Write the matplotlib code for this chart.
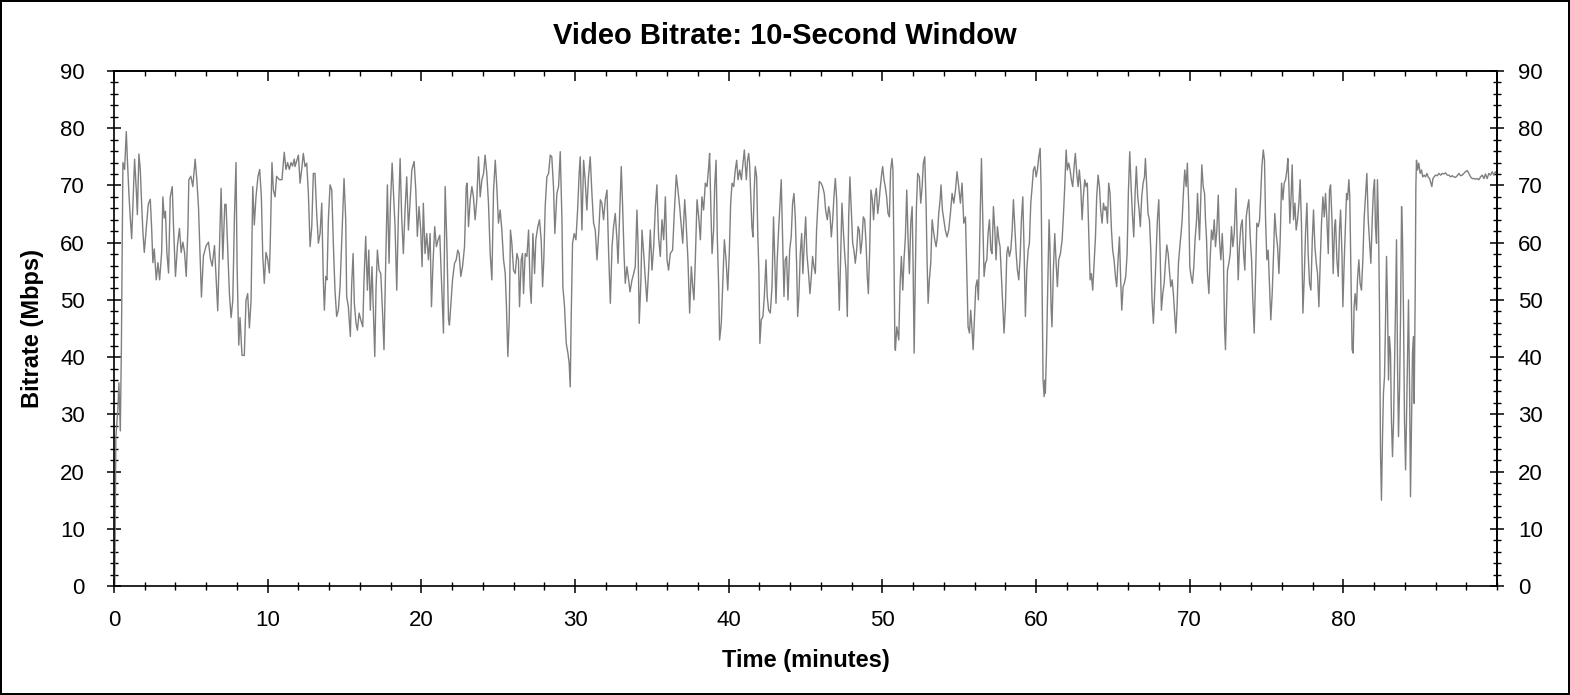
import matplotlib
matplotlib.use("Agg")
import matplotlib.pyplot as plt
from matplotlib.ticker import MultipleLocator

plt.rcParams['font.family'] = ['Liberation Sans', 'DejaVu Sans']

title = "Video Bitrate: 10-Second Window"
x_label = "Time (minutes)"
y_label = "Bitrate (Mbps)"
x_ticks = [0, 10, 20, 30, 40, 50, 60, 70, 80]
y_ticks = [0, 10, 20, 30, 40, 50, 60, 70, 80, 90]
x_range = (0, 90)
y_range = (0, 90)

# (minute, Mbps) readings, segment by segment
seg_00 = [
    (0.05, 0.0), (0.12, 25.9), (0.26, 31.3), (0.32, 35.5), (0.41, 27.1), (0.48, 41.5),
    (0.54, 61.9), (0.58, 74.0), (0.69, 72.8), (0.80, 79.4), (0.87, 74.6), (0.97, 68.6),
    (1.06, 64.3), (1.15, 60.7), (1.23, 66.7), (1.34, 74.6), (1.45, 69.2), (1.52, 64.9),
    (1.62, 75.5), (1.71, 72.8), (1.80, 66.7), (1.88, 61.9), (1.97, 58.3), (2.10, 62.5),
    (2.23, 66.7), (2.36, 67.6), (2.45, 62.5), (2.53, 56.5), (2.62, 58.9), (2.75, 53.5),
    (2.86, 56.5), (2.97, 53.5), (3.10, 58.3), (3.18, 68.0), (3.27, 64.3), (3.35, 65.5),
    (3.44, 58.3), (3.55, 54.7), (3.66, 68.0), (3.79, 69.8), (3.87, 63.1), (4.00, 54.1),
    (4.13, 59.5), (4.26, 62.5), (4.37, 58.3), (4.48, 60.1), (4.59, 58.3), (4.70, 54.1),
    (4.81, 62.5), (4.87, 71.0), (5.00, 71.6), (5.13, 69.8), (5.28, 74.6), (5.39, 71.0),
    (5.50, 66.1), (5.61, 57.1), (5.69, 50.5), (5.82, 57.7), (6.00, 59.5), (6.15, 60.1),
    (6.28, 57.1), (6.39, 55.9), (6.54, 59.5), (6.65, 53.5), (6.75, 48.1), (6.86, 58.9),
    (6.97, 69.5), (7.08, 57.1), (7.21, 66.7), (7.29, 66.7), (7.40, 58.9), (7.51, 51.1),
    (7.62, 46.9), (7.73, 49.9), (7.84, 64.9), (7.94, 74.0), (8.01, 55.9), (8.12, 42.1),
    (8.20, 46.9), (8.33, 40.3), (8.48, 40.3), (8.59, 49.9), (8.70, 51.1), (8.81, 45.1),
    (8.92, 49.9), (9.03, 69.8), (9.13, 63.1), (9.24, 68.0), (9.37, 71.6), (9.48, 72.8),
    (9.59, 68.0), (9.68, 57.7), (9.78, 52.9), (9.89, 58.3), (10.00, 57.1), (10.11, 54.7),
    (10.17, 60.1), (10.28, 74.0), (10.37, 69.2), (10.48, 68.0), (10.58, 71.6), (10.76, 71.0),
    (10.93, 71.0), (11.08, 75.8), (11.19, 72.8), (11.30, 74.0), (11.41, 72.8), (11.52, 74.0),
    (11.62, 73.4), (11.73, 74.6),
]

seg_12 = [
    (11.78, 73.3), (12.00, 75.3), (12.11, 70.4), (12.21, 72.7), (12.32, 75.6), (12.43, 73.3),
    (12.54, 73.9), (12.65, 68.6), (12.76, 59.3), (12.87, 62.8), (12.97, 72.1), (13.08, 72.1),
    (13.19, 65.1), (13.30, 59.9), (13.41, 61.6), (13.52, 66.9), (13.62, 53.5), (13.69, 48.2),
    (13.78, 54.1), (13.86, 53.5), (13.95, 64.0), (14.06, 70.1), (14.17, 69.2), (14.28, 59.3),
    (14.38, 51.7), (14.49, 47.1), (14.60, 48.2), (14.71, 52.3), (14.82, 60.5), (14.97, 71.2),
    (15.08, 64.0), (15.14, 50.6), (15.25, 48.8), (15.38, 43.6), (15.47, 52.9), (15.56, 58.1),
    (15.64, 49.4), (15.75, 45.9), (15.84, 44.7), (15.95, 47.7), (16.06, 46.5), (16.19, 45.3),
    (16.27, 53.5), (16.38, 61.1), (16.49, 51.7), (16.58, 58.7), (16.68, 48.2), (16.79, 55.8),
    (16.88, 47.7), (16.97, 40.1), (17.05, 51.7), (17.14, 58.7), (17.25, 55.2), (17.36, 54.6),
    (17.47, 48.2), (17.57, 41.3), (17.68, 56.4), (17.79, 70.1), (17.90, 56.4), (17.99, 66.9),
    (18.10, 73.9), (18.20, 68.0), (18.29, 62.8), (18.40, 51.7), (18.51, 65.1), (18.62, 74.7),
    (18.72, 64.5), (18.83, 58.1), (18.94, 65.7), (19.05, 71.5), (19.16, 62.2), (19.25, 66.3),
    (19.38, 72.7), (19.53, 74.2), (19.64, 69.2), (19.74, 61.1), (19.85, 66.3), (19.96, 62.2),
    (20.05, 55.8), (20.13, 66.9), (20.24, 58.1), (20.35, 61.6), (20.46, 57.0), (20.57, 61.6),
    (20.66, 48.8), (20.76, 56.4), (20.87, 62.8), (20.98, 59.3), (21.09, 60.5), (21.20, 61.3),
    (21.33, 52.3), (21.44, 44.2), (21.52, 62.2),
]

seg_22 = [
    (21.55, 69.8), (21.66, 59.9), (21.77, 46.5), (21.83, 45.6), (21.94, 50.0), (22.03, 53.5),
    (22.16, 56.4), (22.27, 57.0), (22.37, 58.7), (22.46, 58.1), (22.57, 54.1), (22.68, 55.8),
    (22.81, 59.3), (22.92, 69.8), (22.98, 70.4), (23.07, 62.8), (23.18, 67.5), (23.29, 69.8),
    (23.39, 68.0), (23.50, 64.0), (23.61, 67.5), (23.72, 75.0), (23.83, 68.0), (23.94, 71.0),
    (24.05, 72.1), (24.15, 75.3), (24.26, 72.1), (24.37, 66.9), (24.48, 58.1), (24.59, 53.5),
    (24.70, 69.2), (24.81, 74.4), (24.91, 69.8), (25.02, 63.4), (25.13, 65.7), (25.24, 62.2),
    (25.35, 57.0), (25.46, 54.6), (25.54, 48.8), (25.63, 40.1), (25.72, 46.5), (25.80, 62.2),
    (25.89, 59.9), (26.00, 55.2), (26.11, 54.6), (26.22, 58.1), (26.32, 57.0), (26.39, 48.8),
    (26.50, 57.0), (26.58, 58.1), (26.65, 51.1), (26.76, 58.1), (26.87, 57.6), (26.98, 62.2),
    (27.08, 52.3), (27.15, 49.4), (27.26, 61.6), (27.37, 54.6), (27.45, 60.5), (27.58, 62.8),
    (27.69, 64.0), (27.80, 60.5), (27.89, 52.3), (27.97, 57.0), (28.06, 66.3), (28.17, 71.5),
    (28.28, 72.1), (28.39, 75.3), (28.49, 75.0), (28.60, 69.8), (28.69, 61.6), (28.82, 68.6),
    (28.93, 69.8), (29.04, 75.9), (29.15, 64.0), (29.21, 52.3), (29.32, 48.8), (29.43, 42.4),
    (29.54, 40.7), (29.62, 38.9), (29.69, 34.8), (29.75, 46.5), (29.84, 59.9), (29.95, 61.6),
    (30.06, 60.5), (30.17, 65.7), (30.27, 72.1), (30.34, 75.0), (30.45, 62.2), (30.56, 74.4),
    (30.66, 71.0), (30.77, 65.7), (30.88, 71.5), (30.99, 75.0), (31.10, 68.6), (31.21, 63.4),
]

seg_31 = [
    (31.32, 62.2), (31.43, 57.0), (31.54, 61.6), (31.65, 67.5), (31.75, 66.9), (31.86, 64.0),
    (31.97, 67.5), (32.08, 69.2), (32.19, 58.1), (32.30, 49.4), (32.41, 59.3), (32.51, 62.8),
    (32.62, 65.1), (32.73, 60.5), (32.80, 56.4), (32.90, 64.5), (33.01, 73.3), (33.10, 66.3),
    (33.19, 58.1), (33.27, 52.9), (33.38, 55.8), (33.49, 53.5), (33.58, 51.4), (33.71, 53.5),
    (33.82, 54.6), (33.92, 55.8), (34.03, 65.7), (34.10, 59.9), (34.18, 45.9), (34.29, 53.5),
    (34.36, 62.2), (34.47, 58.1), (34.58, 53.5), (34.68, 49.7), (34.79, 55.2), (34.90, 62.2),
    (35.01, 55.2), (35.12, 59.3), (35.23, 66.3), (35.33, 70.1), (35.44, 61.0), (35.55, 57.6),
    (35.66, 64.0), (35.77, 60.5), (35.88, 68.0), (35.99, 57.0), (36.09, 55.2), (36.20, 58.1),
    (36.35, 58.7), (36.46, 65.1), (36.59, 71.8), (36.70, 69.2), (36.81, 66.3), (36.92, 62.8),
    (37.01, 59.9), (37.14, 67.5), (37.22, 64.0), (37.35, 57.0), (37.46, 47.7), (37.57, 55.8),
    (37.66, 52.3), (37.74, 50.0), (37.83, 57.0), (37.94, 67.5), (38.05, 64.5), (38.16, 60.5),
    (38.26, 68.0), (38.37, 65.7), (38.48, 70.4), (38.59, 69.8), (38.70, 73.3), (38.76, 75.6),
    (38.85, 65.1), (38.92, 58.1), (39.02, 62.2), (39.09, 69.8), (39.18, 74.4), (39.26, 61.0),
    (39.35, 52.3), (39.41, 43.0), (39.52, 45.9), (39.61, 52.3), (39.72, 60.5), (39.83, 57.0),
    (39.94, 51.7), (40.04, 58.1), (40.13, 66.9), (40.22, 70.4), (40.33, 69.8), (40.43, 72.7),
    (40.52, 74.4), (40.61, 71.0), (40.72, 72.7), (40.83, 71.0), (40.91, 73.3), (41.02, 76.2),
]

seg_41 = [
    (41.08, 73.9), (41.15, 71.0), (41.23, 74.4), (41.30, 75.6), (41.36, 73.9), (41.43, 68.6),
    (41.51, 62.8), (41.58, 61.0), (41.67, 69.8), (41.73, 73.3), (41.82, 71.5), (41.90, 61.0),
    (41.97, 54.6), (42.03, 42.4), (42.12, 46.5), (42.23, 47.1), (42.32, 50.6), (42.43, 57.0),
    (42.51, 50.6), (42.60, 48.2), (42.71, 47.7), (42.82, 52.3), (42.92, 64.5), (42.99, 58.1),
    (43.08, 49.4), (43.16, 57.0), (43.25, 62.2), (43.36, 68.0), (43.42, 71.0), (43.51, 61.0),
    (43.60, 50.6), (43.68, 57.0), (43.77, 57.6), (43.86, 50.0), (43.97, 58.7), (44.07, 61.0),
    (44.16, 66.9), (44.25, 68.6), (44.34, 64.0), (44.42, 56.4), (44.49, 47.1), (44.57, 50.6),
    (44.66, 58.1), (44.75, 61.6), (44.83, 54.6), (44.92, 59.9), (45.01, 64.5), (45.09, 58.1),
    (45.20, 54.6), (45.29, 51.1), (45.38, 54.1), (45.46, 57.6), (45.55, 55.8), (45.64, 54.6),
    (45.72, 62.2), (45.81, 66.9), (45.90, 70.7), (46.01, 70.4), (46.11, 69.8), (46.22, 68.6),
    (46.31, 65.7), (46.42, 64.0), (46.51, 66.3), (46.59, 65.1), (46.68, 61.0), (46.77, 64.0),
    (46.85, 68.0), (46.94, 71.2), (47.03, 67.5), (47.11, 57.0), (47.20, 48.2), (47.29, 57.6),
    (47.37, 66.9), (47.46, 62.2), (47.55, 58.1), (47.63, 55.2), (47.72, 47.1), (47.81, 64.5),
    (47.89, 71.5), (47.98, 65.7), (48.07, 59.9), (48.15, 58.7), (48.24, 56.4), (48.33, 58.7),
    (48.42, 62.8), (48.50, 62.2), (48.59, 58.1), (48.68, 60.5), (48.76, 64.5), (48.85, 64.0),
    (48.94, 59.9), (49.02, 54.1), (49.09, 51.1), (49.17, 58.1), (49.26, 69.2), (49.35, 67.5),
    (49.43, 64.0), (49.52, 68.0), (49.61, 69.5), (49.70, 65.1), (49.78, 66.9), (49.87, 69.8),
    (49.96, 72.1), (50.02, 73.3), (50.11, 71.0), (50.19, 69.8), (50.28, 68.0), (50.37, 65.1),
    (50.46, 64.5), (50.54, 72.7), (50.63, 74.7), (50.69, 72.7), (50.76, 57.0), (50.82, 41.8),
]

seg_51 = [
    (50.85, 41.2), (50.94, 45.3), (51.00, 44.2), (51.07, 43.0), (51.15, 52.3), (51.24, 57.6),
    (51.33, 51.7), (51.41, 57.0), (51.50, 61.0), (51.59, 69.2), (51.67, 61.0), (51.76, 54.6),
    (51.85, 63.4), (51.94, 66.3), (52.00, 56.4), (52.07, 40.7), (52.15, 55.2), (52.22, 66.3),
    (52.30, 72.1), (52.41, 71.5), (52.50, 66.9), (52.59, 69.8), (52.67, 73.9), (52.76, 75.0),
    (52.85, 66.3), (52.91, 57.0), (52.98, 49.4), (53.06, 53.5), (53.15, 56.4), (53.24, 64.0),
    (53.32, 62.2), (53.41, 60.5), (53.50, 59.3), (53.58, 61.0), (53.67, 65.1), (53.76, 67.5),
    (53.82, 70.1), (53.91, 65.7), (54.00, 64.0), (54.10, 62.2), (54.21, 61.0), (54.32, 62.2),
    (54.43, 65.1), (54.54, 68.6), (54.65, 66.9), (54.76, 69.2), (54.86, 72.4), (54.97, 69.8),
    (55.08, 66.9), (55.19, 70.4), (55.30, 63.4), (55.41, 64.5), (55.49, 55.2), (55.58, 45.3),
    (55.67, 44.2), (55.75, 48.2), (55.84, 44.7), (55.91, 41.3), (55.99, 46.5), (56.08, 52.3),
    (56.17, 53.5), (56.25, 50.0), (56.32, 58.1), (56.38, 66.3), (56.45, 74.7), (56.54, 64.0),
    (56.62, 54.1), (56.71, 56.4), (56.80, 57.0), (56.88, 61.6), (56.97, 64.0), (57.06, 58.7),
    (57.14, 58.1), (57.23, 66.3), (57.32, 62.2), (57.40, 57.0), (57.49, 62.8), (57.58, 60.5),
    (57.66, 59.3), (57.75, 54.1), (57.84, 48.8), (57.92, 44.2), (58.01, 48.8), (58.10, 58.1),
    (58.18, 59.3), (58.27, 57.6), (58.36, 58.7), (58.45, 62.2), (58.53, 67.5), (58.62, 62.8),
    (58.71, 58.1), (58.79, 55.2), (58.88, 53.5), (58.97, 57.6), (59.05, 64.0), (59.14, 68.0),
    (59.23, 58.1), (59.31, 47.1), (59.40, 55.2), (59.49, 58.7), (59.57, 59.9), (59.66, 66.9),
    (59.75, 69.8), (59.83, 72.7), (59.92, 73.3), (60.01, 71.5), (60.09, 72.7), (60.18, 75.0),
    (60.27, 76.5), (60.33, 69.8), (60.40, 52.3), (60.46, 36.0), (60.53, 33.1), (60.59, 36.0),
]

seg_61 = [
    (60.61, 33.7), (60.68, 40.7), (60.74, 48.8), (60.81, 58.1), (60.85, 64.0), (60.91, 59.3),
    (60.98, 48.8), (61.04, 45.3), (61.13, 55.2), (61.22, 61.6), (61.30, 57.0), (61.39, 52.3),
    (61.48, 57.0), (61.59, 58.1), (61.70, 60.5), (61.78, 64.5), (61.87, 69.8), (61.96, 76.2),
    (62.04, 72.7), (62.13, 73.9), (62.22, 72.7), (62.30, 71.0), (62.39, 69.8), (62.48, 73.3),
    (62.56, 75.6), (62.65, 72.1), (62.74, 69.8), (62.82, 72.7), (62.91, 69.8), (63.00, 64.0),
    (63.08, 68.0), (63.17, 71.0), (63.26, 69.8), (63.34, 70.4), (63.43, 62.2), (63.52, 53.5),
    (63.60, 54.6), (63.69, 51.7), (63.78, 56.4), (63.87, 61.0), (63.95, 68.0), (64.04, 71.8),
    (64.13, 69.8), (64.21, 65.7), (64.30, 63.4), (64.39, 66.9), (64.47, 65.7), (64.56, 66.3),
    (64.65, 63.4), (64.73, 70.4), (64.82, 68.6), (64.91, 62.2), (64.99, 58.7), (65.08, 57.0),
    (65.17, 54.1), (65.25, 52.3), (65.34, 57.0), (65.43, 61.0), (65.51, 53.5), (65.58, 48.2),
    (65.67, 52.3), (65.75, 52.9), (65.84, 54.1), (65.93, 58.1), (66.01, 68.6), (66.10, 75.9),
    (66.19, 69.8), (66.27, 65.1), (66.36, 61.0), (66.45, 68.6), (66.53, 73.3), (66.62, 68.0),
    (66.71, 65.7), (66.79, 62.8), (66.88, 68.0), (66.97, 70.4), (67.06, 71.5), (67.12, 74.7),
    (67.21, 69.8), (67.29, 65.1), (67.38, 64.0), (67.47, 58.7), (67.55, 50.0), (67.64, 45.9),
    (67.73, 51.7), (67.81, 57.6), (67.90, 64.0), (67.99, 67.5), (68.08, 58.1), (68.16, 48.2),
    (68.25, 51.1), (68.34, 52.9), (68.42, 56.4), (68.51, 59.6), (68.60, 58.1), (68.68, 55.2),
    (68.77, 52.3), (68.86, 53.5), (68.94, 51.1), (69.03, 47.1), (69.10, 44.2), (69.18, 48.8),
    (69.27, 56.4), (69.36, 59.3), (69.44, 61.6), (69.51, 64.0), (69.59, 68.6), (69.68, 72.7),
    (69.77, 69.8), (69.85, 73.9), (69.94, 66.3), (70.01, 55.8), (70.09, 54.1), (70.18, 52.9),
    (70.27, 55.8), (70.35, 60.5),
]

seg_70 = [
    (70.45, 64.0), (70.51, 68.6), (70.58, 64.0), (70.64, 60.5), (70.71, 66.9), (70.79, 73.6),
    (70.88, 69.8), (70.97, 68.6), (71.03, 64.0), (71.10, 60.5), (71.16, 54.6), (71.25, 51.1),
    (71.33, 57.0), (71.42, 62.2), (71.51, 60.5), (71.60, 64.0), (71.68, 59.3), (71.77, 62.2),
    (71.86, 68.3), (71.94, 60.5), (72.03, 57.0), (72.12, 61.6), (72.20, 57.0), (72.27, 45.3),
    (72.33, 41.3), (72.40, 48.8), (72.46, 55.2), (72.55, 56.4), (72.64, 58.1), (72.72, 62.8),
    (72.81, 59.3), (72.90, 61.6), (73.01, 69.5), (73.09, 61.0), (73.16, 53.5), (73.24, 59.3),
    (73.33, 62.8), (73.42, 64.0), (73.51, 58.1), (73.59, 55.2), (73.68, 64.5), (73.77, 66.3),
    (73.85, 67.5), (73.94, 61.0), (74.03, 57.0), (74.11, 50.0), (74.20, 44.2), (74.29, 54.6),
    (74.37, 63.4), (74.46, 62.8), (74.55, 64.0), (74.61, 67.5), (74.70, 73.3), (74.79, 76.2),
    (74.87, 74.4), (74.94, 64.0), (75.02, 57.0), (75.11, 58.7), (75.20, 52.3), (75.28, 46.5),
    (75.37, 51.1), (75.46, 58.1), (75.54, 65.1), (75.63, 61.6), (75.72, 59.3), (75.81, 54.6),
    (75.89, 60.5), (75.98, 70.4), (76.07, 67.5), (76.15, 70.4), (76.24, 71.0), (76.33, 72.7),
    (76.39, 74.7), (76.46, 69.8), (76.52, 63.4), (76.61, 68.6), (76.67, 73.6), (76.76, 64.0),
    (76.85, 66.9), (76.93, 62.2), (77.02, 64.0), (77.11, 66.9), (77.19, 71.0), (77.28, 62.8),
    (77.37, 47.7), (77.45, 53.5), (77.54, 61.6), (77.63, 66.9), (77.71, 58.1), (77.80, 52.9),
    (77.89, 51.7), (77.98, 60.5), (78.06, 65.7), (78.15, 59.3), (78.24, 56.4), (78.32, 54.6),
    (78.41, 48.8), (78.50, 57.0), (78.58, 63.4), (78.67, 68.0), (78.76, 64.5), (78.84, 68.6),
    (78.93, 64.0), (79.02, 58.1), (79.10, 69.2), (79.17, 70.1), (79.26, 64.0), (79.34, 54.6),
    (79.43, 62.8), (79.49, 64.0), (79.58, 57.0), (79.67, 54.1), (79.75, 62.2), (79.82, 65.7),
    (79.91, 58.1), (79.97, 48.8), (80.06, 57.0), (80.12, 61.6),
]

seg_80 = [
    (80.21, 68.6), (80.27, 67.5), (80.36, 71.0), (80.42, 68.0), (80.49, 55.2), (80.57, 41.3),
    (80.64, 40.7), (80.70, 48.8), (80.77, 51.1), (80.86, 48.2), (80.92, 53.5), (81.01, 57.0),
    (81.09, 52.9), (81.18, 51.7), (81.27, 57.0), (81.35, 64.0), (81.44, 68.0), (81.53, 72.1),
    (81.62, 64.0), (81.70, 60.5), (81.79, 56.4), (81.88, 64.0), (81.96, 69.2), (82.03, 71.0),
    (82.09, 62.8), (82.16, 59.9), (82.22, 71.0), (82.29, 62.8), (82.35, 49.4), (82.42, 23.2),
    (82.48, 15.0), (82.55, 26.1), (82.61, 33.7), (82.68, 36.6), (82.74, 45.3), (82.81, 57.6),
    (82.87, 50.0), (82.94, 36.0), (83.00, 43.6), (83.07, 40.7), (83.13, 29.0), (83.20, 22.6),
    (83.27, 29.0), (83.33, 38.3), (83.40, 49.4), (83.46, 60.5), (83.53, 37.8), (83.59, 26.1),
    (83.66, 34.8), (83.72, 46.5), (83.79, 66.3), (83.85, 61.0), (83.92, 46.5), (83.98, 29.0),
    (84.05, 20.3), (84.11, 29.0), (84.18, 40.7), (84.24, 50.0), (84.31, 34.8), (84.37, 15.6),
    (84.44, 29.0), (84.50, 40.7), (84.57, 43.6), (84.61, 31.9), (84.68, 52.3), (84.72, 69.8),
    (84.76, 74.4), (84.83, 72.7), (84.91, 73.9), (85.00, 72.1), (85.09, 72.7), (85.17, 71.5),
    (85.26, 71.8), (85.35, 71.5), (85.44, 72.1), (85.52, 71.5), (85.61, 71.2), (85.70, 70.4),
    (85.76, 69.8), (85.83, 71.2), (85.91, 71.5), (86.00, 71.8), (86.11, 71.7), (86.22, 72.1),
    (86.33, 71.8), (86.43, 72.1), (86.54, 72.0), (86.65, 72.2), (86.76, 71.8), (86.87, 71.8),
    (86.98, 71.5), (87.08, 71.7), (87.19, 71.5), (87.30, 71.4), (87.41, 71.7), (87.52, 72.1),
    (87.63, 71.7), (87.74, 71.8), (87.84, 72.1), (87.95, 72.4), (88.06, 72.6), (88.17, 72.1),
    (88.28, 71.5), (88.39, 71.2), (88.50, 71.2), (88.60, 71.1), (88.71, 71.2), (88.82, 71.0),
    (88.93, 71.5), (89.04, 71.8), (89.15, 71.2), (89.25, 72.0), (89.36, 71.2), (89.47, 72.1),
    (89.58, 71.8), (89.69, 72.4), (89.80, 71.8), (89.90, 72.4), (89.97, 72.1),
]

segments = [seg_00, seg_12, seg_22, seg_31, seg_41, seg_51, seg_61, seg_70, seg_80]
minutes = [p[0] for s in segments for p in s]
bitrate = [p[1] for s in segments for p in s]

W, H = 1570, 695
fig = plt.figure(figsize=(W / 100, H / 100), dpi=100)
fig.patch.set_facecolor('white')
fig.patch.set_edgecolor('black')
fig.patch.set_linewidth(1.5)

L, R, T, B = 114, 1497, 71, 586
ax = fig.add_axes([L / W, 1 - B / H, (R - L) / W, (B - T) / H])
ax.plot(minutes, bitrate, color='#7f7f7f', lw=1.0, solid_joinstyle='round')
ax.set_xlim(*x_range)
ax.set_ylim(*y_range)

for sp in ax.spines.values():
    sp.set_linewidth(1.2)
    sp.set_color('black')

ax.set_xticks(x_ticks)
ax.set_yticks(y_ticks)
ax.xaxis.set_minor_locator(MultipleLocator(2))
ax.yaxis.set_minor_locator(MultipleLocator(2))
ax.tick_params(axis='both', which='major', direction='inout', length=10, width=1.1,
               labelsize=16, colors='black')
ax.tick_params(axis='both', which='minor', direction='inout', length=5.5, width=1.0)
ax.tick_params(axis='x', which='major', pad=12)
ax.tick_params(axis='y', which='major', pad=16)
ax.tick_params(top=False, right=False)

# right axis with labels
ay2 = ax.secondary_yaxis('right')
ay2.set_yticks(y_ticks)
ay2.yaxis.set_minor_locator(MultipleLocator(2))
ay2.tick_params(which='major', direction='inout', length=10, width=1.1, labelsize=16, pad=10)
ay2.tick_params(which='minor', direction='inout', length=5.5, width=1.0)
ay2.spines['right'].set_linewidth(1.2)

# top axis, ticks only (inward)
ax2 = ax.secondary_xaxis('top')
ax2.set_xticks(x_ticks + [90])
ax2.xaxis.set_minor_locator(MultipleLocator(2))
ax2.tick_params(which='major', direction='in', length=7, width=1.1, labeltop=False)
ax2.tick_params(which='minor', direction='in', length=3.5, width=1.0)
ax2.spines['top'].set_linewidth(1.2)

ax.set_xlabel(x_label, fontsize=17, fontweight='bold')
ax.xaxis.label.set_verticalalignment('baseline')
ax.xaxis.set_label_coords(0.5, (B - 667) / (B - T))
ax.set_ylabel(y_label, fontsize=17, fontweight='bold')
ax.yaxis.label.set_verticalalignment('baseline')
ax.yaxis.set_label_coords((39 - L) / (R - L), 0.5)

fig.text(0.5, 1 - 44.3 / H, title, ha='center', va='baseline', fontsize=21, fontweight='bold')

fig.savefig('out.png', dpi=100, facecolor='white', edgecolor='black')
